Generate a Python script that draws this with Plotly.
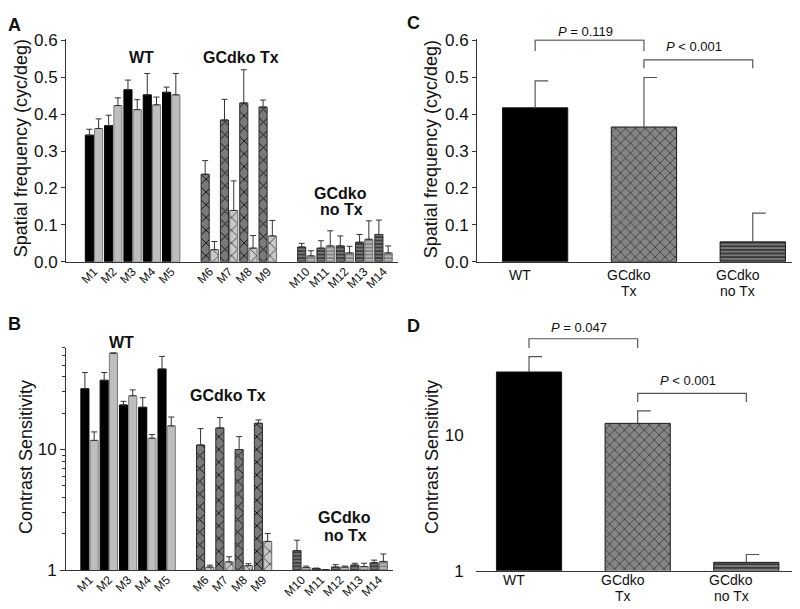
import numpy as np
import plotly.graph_objects as go

W, H = 800, 609
FONT = "Liberation Sans, Arial, sans-serif"

# ---------------- data ----------------
mice = ["M1", "M2", "M3", "M4", "M5", "M6", "M7", "M8", "M9",
        "M10", "M11", "M12", "M13", "M14"]
mouse_group = [0, 0, 0, 0, 0, 1, 1, 1, 1, 2, 2, 2, 2, 2]
group_names = ["WT", "GCdko Tx", "GCdko no Tx"]

# Panel A: spatial frequency (cyc/deg), two bars per mouse
sf_first = [0.343, 0.369, 0.466, 0.452, 0.459, 0.237, 0.384, 0.430, 0.419,
            0.040, 0.037, 0.043, 0.053, 0.074]
sf_first_err = [0.016, 0.028, 0.026, 0.058, 0.014, 0.037, 0.056, 0.090, 0.019,
                0.010, 0.020, 0.027, 0.021, 0.039]
sf_second = [0.361, 0.423, 0.412, 0.425, 0.452, 0.033, 0.139, 0.037, 0.070,
             0.016, 0.043, 0.024, 0.061, 0.024]
sf_second_err = [0.026, 0.021, 0.027, 0.021, 0.058, 0.022, 0.080, 0.034, 0.042,
                 0.014, 0.041, 0.018, 0.050, 0.019]

# Panel B: contrast sensitivity, two bars per mouse
cs_first = [31.9, 37.5, 23.4, 22.4, 46.5, 10.9, 15.1, 10.0, 16.5,
            1.45, 1.03, 1.06, 1.10, 1.15]
cs_first_err = [11.6, 6.0, 1.7, 4.5, 12.7, 4.0, 3.3, 2.8, 1.1,
                0.32, 0.01, 0.05, 0.04, 0.06]
cs_second = [11.9, 63.0, 27.9, 12.4, 15.7, 1.06, 1.17, 1.09, 1.73,
             1.05, 1.01, 1.06, 1.07, 1.18]
cs_second_err = [2.1, 0.0, 3.3, 0.9, 2.9, 0.04, 0.12, 0.04, 0.28,
                 0.03, 0.0, 0.02, 0.07, 0.18]

# Panels C, D: group means
group_labels = [["WT"], ["GCdko", "Tx"], ["GCdko", "no Tx"]]
sf_group = [0.417, 0.365, 0.054]
sf_group_err = [0.073, 0.134, 0.078]
cs_group = [29.5, 12.3, 1.155]
cs_group_err = [8.8, 2.9, 0.165]

# significance brackets: (left, right, top, foot, text)
sf_brackets = [(0, 1, 0.600, 0.571, "<i>P</i> = 0.119"),
               (1, 2, 0.547, 0.524, "<i>P</i> < 0.001")]
cs_brackets = [(0, 1, 51.9, 44.4, "<i>P</i> = 0.047"),
               (1, 2, 20.5, 17.7, "<i>P</i> < 0.001")]

# ---------------- styles ----------------
dark_style = [dict(fill="#000000", fg="#000000", line="#000000"),
              dict(fill="#7a7a7a", fg="#111111", line="#2a2a2a"),
              dict(fill="#767676", fg="#2e2e2e", line="#2a2a2a")]
light_style = [dict(fill="#bebebe", fg="#bebebe", line="#7a7a7a"),
               dict(fill="#c8c8c8", fg="#4a4a4a", line="#666666"),
               dict(fill="#b8b8b8", fg="#777777", line="#666666")]
shapes_g = ["", "x", "-"]
size_g = [8, 9, 3.5]
sol_g = [0.2, 0.2, 0.4]

pos = [i + 1 + g for i, g in enumerate(mouse_group)]
xc = list(range(len(group_labels)))


def P(x, y):
    return x / W, 1 - y / H


fig = go.Figure()


def mouse_bars(xaxis, yaxis, vals, errs, styles, offset):
    for g in range(len(group_names)):
        idx = [i for i, mg in enumerate(mouse_group) if mg == g]
        st = styles[g]
        fig.add_trace(go.Bar(
            x=[pos[i] for i in idx], y=[vals[i] for i in idx],
            xaxis=xaxis, yaxis=yaxis, width=0.42, offset=offset,
            marker=dict(
                color=st["fill"],
                line=dict(color=st["line"], width=1),
                pattern=dict(shape=shapes_g[g], fgcolor=st["fg"], bgcolor=st["fill"],
                             size=size_g[g], solidity=sol_g[g],
                             fillmode="replace", fgopacity=1),
            ),
            error_y=dict(type="data", array=[errs[i] for i in idx],
                         arrayminus=[0] * len(idx), symmetric=False,
                         width=3, thickness=1, color="#333333"),
            showlegend=False, hoverinfo="skip",
        ))


mouse_bars("x", "y", sf_first, sf_first_err, dark_style, -0.45)
mouse_bars("x", "y", sf_second, sf_second_err, light_style, 0.03)
mouse_bars("x2", "y2", cs_first, cs_first_err, dark_style, -0.45)
mouse_bars("x2", "y2", cs_second, cs_second_err, light_style, 0.03)

grp_fill = ["#000000", "#858585", "#7a7a7a"]
grp_fg = ["#000000", "#1a1a1a", "#2a2a2a"]
grp_psize = [8, 7, 3.6]
grp_sol = [0.2, 0.16, 0.4]


def group_bars(xaxis, yaxis, vals, errs):
    for i in xc:
        fig.add_trace(go.Bar(
            x=[i], y=[vals[i]], xaxis=xaxis, yaxis=yaxis, width=0.6,
            marker=dict(
                color=grp_fill[i],
                line=dict(color="#1a1a1a", width=1),
                pattern=dict(shape=shapes_g[i], fgcolor=grp_fg[i], bgcolor=grp_fill[i],
                             size=grp_psize[i], solidity=grp_sol[i],
                             fillmode="replace", fgopacity=1),
            ),
            showlegend=False, hoverinfo="skip",
        ))
    ex, ey = [], []
    for i, (v, e) in enumerate(zip(vals, errs)):
        ex += [i, i, i + 0.12, None]
        ey += [v, v + e, v + e, None]
    fig.add_trace(go.Scatter(x=ex, y=ey, xaxis=xaxis, yaxis=yaxis, mode="lines",
                             line=dict(color="#555555", width=1.2),
                             showlegend=False, hoverinfo="skip"))


group_bars("x3", "y3", sf_group, sf_group_err)
group_bars("x4", "y4", cs_group, cs_group_err)


def brackets(xaxis, yaxis, items, logy, shifts):
    for (a, b, top, foot, txt), sh in zip(items, shifts):
        fig.add_trace(go.Scatter(x=[a, a, b, b], y=[foot, top, top, foot],
                                 xaxis=xaxis, yaxis=yaxis, mode="lines",
                                 line=dict(color="#555555", width=1.2),
                                 showlegend=False, hoverinfo="skip"))
        fig.add_annotation(x=(a + b) / 2, y=np.log10(top) if logy else top,
                           xref=xaxis, yref=yaxis, text=txt, showarrow=False,
                           yanchor="middle", yshift=sh, xshift=-4,
                           font=dict(family=FONT, size=13, color="#111"))


brackets("x3", "y3", sf_brackets, False, [9, 13.5])
brackets("x4", "y4", cs_brackets, True, [11.5, 12.5])

# ---------------- axes ----------------
axcol = "#333333"
common_x = dict(showgrid=False, zeroline=False, showline=True, linecolor=axcol,
                linewidth=1, ticks="")
lin_y = dict(range=[0, 0.6025], tickvals=[0, 0.1, 0.2, 0.3, 0.4, 0.5, 0.6],
             tickformat=".1f", ticks="outside", ticklen=4, tickcolor=axcol,
             showline=True, linecolor=axcol, showgrid=False, zeroline=False,
             tickfont=dict(family=FONT, size=17, color="#111"))
minor_vals = [2, 3, 4, 5, 6, 7, 8, 9, 20, 30, 40, 50, 60, 70]
sf_title = "Spatial frequency (cyc/deg)"
cs_title = "Contrast Sensitivity"

fig.update_layout(
    width=W, height=H, margin=dict(l=0, r=0, t=0, b=0),
    paper_bgcolor="white", plot_bgcolor="white", barmode="overlay",
    xaxis=dict(domain=[58 / W, 390 / W], range=[-0.45, 16.75], anchor="y",
               tickvals=pos, ticktext=mice, tickangle=-45, ticklabelstandoff=-3,
               tickfont=dict(family=FONT, size=12, color="#111"), **common_x),
    yaxis=dict(domain=[1 - 253.3 / H, 1 - 24 / H], anchor="x", **lin_y),
    xaxis2=dict(domain=[58 / W, 385 / W], range=[-0.22, 16.74], anchor="y2",
                tickvals=pos, ticktext=mice, tickangle=-45, ticklabelstandoff=-3,
                tickfont=dict(family=FONT, size=12, color="#111"), **common_x),
    yaxis2=dict(domain=[1 - 571 / H, 1 - 341.7 / H], anchor="x2", type="log",
                range=[0, np.log10(70)], tickvals=[1, 10], ticktext=["1", "10"],
                ticks="outside", ticklen=5, tickcolor=axcol,
                minor=dict(tickmode="array", tickvals=minor_vals, ticks="outside",
                           ticklen=3, tickcolor=axcol, showgrid=False),
                showline=True, linecolor=axcol, showgrid=False, zeroline=False,
                tickfont=dict(family=FONT, size=17, color="#111")),
    xaxis3=dict(domain=[469 / W, 797 / W], range=[-0.534, 2.48], anchor="y3",
                showticklabels=False, **common_x),
    yaxis3=dict(domain=[1 - 253.3 / H, 1 - 24 / H], anchor="x3", **lin_y),
    xaxis4=dict(domain=[468 / W, 797 / W], range=[-0.488, 2.54], anchor="y4",
                showticklabels=False, **common_x),
    yaxis4=dict(domain=[1 - 571.7 / H, 1 - 314.5 / H], anchor="x4", type="log",
                range=[0, 1.845], tickvals=[1, 10], ticktext=["1", "10"],
                ticks="outside", ticklen=8, tickcolor="rgba(0,0,0,0)",
                showline=False, showgrid=False, zeroline=False,
                tickfont=dict(family=FONT, size=17, color="#111")),
)

# y-axis titles
for t, x, y in ((sf_title, 12.5, 136.7), (cs_title, 17.5, 455),
                (sf_title, 422.5, 136.7), (cs_title, 423.5, 455)):
    xx, yy = P(x, y)
    fig.add_annotation(x=xx, y=yy, xref="paper", yref="paper", text=t,
                       textangle=-90, showarrow=False, xanchor="center",
                       yanchor="middle", borderpad=0,
                       font=dict(family=FONT, size=18, color="#111"))

# category labels for C and D (two tight lines)
for xa, ys in (("x3", (267, 283)), ("x4", (581.5, 597.5))):
    for i, lines in enumerate(group_labels):
        for k, t in enumerate(lines):
            fig.add_annotation(x=i, y=P(0, ys[k])[1], xref=xa, yref="paper",
                               text=t, showarrow=False, xshift=-15,
                               yanchor="middle", borderpad=0,
                               font=dict(family=FONT, size=14, color="#111"))

# group labels inside A and B
grp_ann = [("WT", 133, 43), ("GCdko Tx", 233, 43), ("GCdko", 332.5, 182.5), ("no Tx", 333, 199),
           ("WT", 114, 336.7), ("GCdko Tx", 220, 391), ("GCdko", 336, 517), ("no Tx", 337.5, 535)]
for t, x, y in grp_ann:
    xx, yy = P(x, y)
    fig.add_annotation(x=xx, y=yy, xref="paper", yref="paper", text="<b>%s</b>" % t,
                       showarrow=False, xanchor="center", yanchor="middle", borderpad=0,
                       height=15, font=dict(family=FONT, size=16, color="#111"))

# panel letters
for t, x, y in (("A", 6.5, 9.5), ("B", 6.5, 317.5), ("C", 406, 7.5), ("D", 406, 319)):
    xx, yy = P(x, y)
    fig.add_annotation(x=xx, y=yy, xref="paper", yref="paper", text="<b>%s</b>" % t,
                       showarrow=False, xanchor="center", yanchor="middle",
                       font=dict(family=FONT, size=18, color="#111"))

fig.write_html("out.html")
